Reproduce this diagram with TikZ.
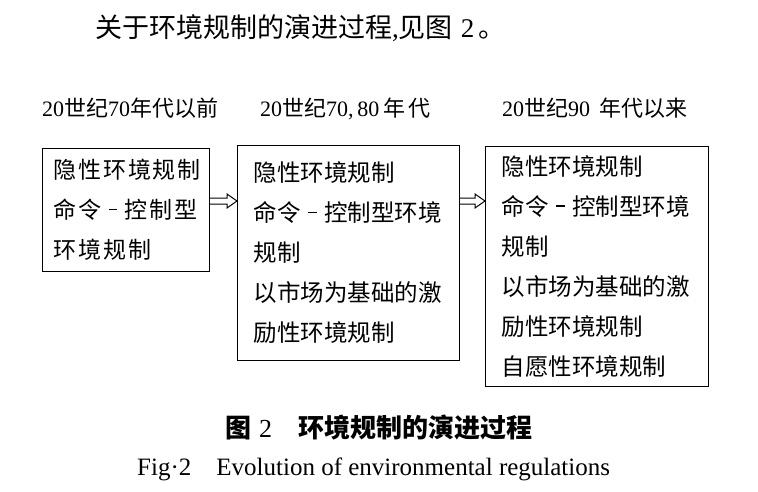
\documentclass[tikz,border=0pt]{standalone}
\usepackage{fontspec}
\setmainfont{Liberation Serif}
\newfontfamily\cjk{Noto Sans CJK SC}
\newfontfamily\cjkwide[LetterSpace=8]{Noto Sans CJK SC}
\usetikzlibrary{calc}

% short dash set in a full character cell
\newcommand{\celldash}{\makebox[1em]{\rule[0.38em]{0.36em}{0.055em}}}

\tikzset{
  stagebox/.style={draw, line width=1.1pt, anchor=north west, inner ysep=4pt,
    align=left, font=\cjk\fontsize{23.5}{40}\selectfont},
  stagehead/.style={anchor=base west, inner sep=0pt, font=\fontsize{22}{26}\selectfont},
  hollow/.style={line width=1pt, line join=miter}
}
% hollow double-line arrow from #1 to #2
\newcommand{\hollowarrow}[2]{%
  \draw[hollow] ($(#1)+(0,-3)$) -- ($(#2)+(-10,-3)$) -- ($(#2)+(-10,-7)$) -- (#2)
    -- ($(#2)+(-10,7)$) -- ($(#2)+(-10,3)$) -- ($(#1)+(0,3)$);}

\begin{document}
\begin{tikzpicture}[x=1pt,y=-1pt]
\useasboundingbox (0,0) rectangle (758,491);

% introductory sentence
\node[anchor=base west, inner sep=0pt, font=\fontsize{27}{30}\selectfont] (intro) at (95,37)
  {{\cjk 关于环境规制的演进过程},{\cjk 见图}\hspace{8pt}2\hspace{4pt}{\cjk 。}};

% period headings
\node[stagehead] (h1) at (42,116) {20{\cjk 世纪}70{\cjk 年代以前}};
\node[stagehead] (h2) at (260,116) {20{\cjk 世纪}70,\,80\,{\cjk 年}\,{\cjk 代}};
\node[stagehead] (h3) at (502,116) {20{\cjk 世纪}90\hspace{9pt}{\cjk 年代以来}};

% stage boxes
\node[stagebox, font=\cjkwide\fontsize{23}{40}\selectfont, inner xsep=11pt,
      minimum width=167pt, minimum height=123pt, text width=145pt] (b1) at (42,148)
  {隐性环境规制\\命令\celldash 控制型\\环境规制};
\node[stagebox, inner xsep=16pt, minimum width=222pt, minimum height=215pt,
      text width=190pt] (b2) at (237,145)
  {隐性环境规制\\命令\celldash 控制型环境\\规制\\以市场为基础的激\\励性环境规制};
\node[stagebox, inner xsep=16pt, minimum width=223pt, minimum height=240pt,
      text width=191pt] (b3) at (485,146)
  {隐性环境规制\\命令\celldash 控制型环境\\规制\\以市场为基础的激\\励性环境规制\\自愿性环境规制};

% arrows between stages
\coordinate (lev) at (0,201);
\coordinate (s1) at (b1.east |- lev);
\coordinate (t1) at (b2.west |- lev);
\coordinate (s2) at (b2.east |- lev);
\coordinate (t2) at (b3.west |- lev);
\hollowarrow{s1}{t1}
\hollowarrow{s2}{t2}

% captions
\node[anchor=base west, inner sep=0pt, font=\fontsize{26}{28}\selectfont] (capzh) at (225,437)
  {{\cjk\bfseries 图}\hspace{8pt}2\hspace{26pt}{\cjk\bfseries 环境规制的演进过程}};
\node[anchor=base west, inner sep=0pt, font=\fontsize{25}{30}\selectfont] (capen) at (137,475)
  {Fig·2\quad Evolution of environmental regulations};
\end{tikzpicture}
\end{document}
